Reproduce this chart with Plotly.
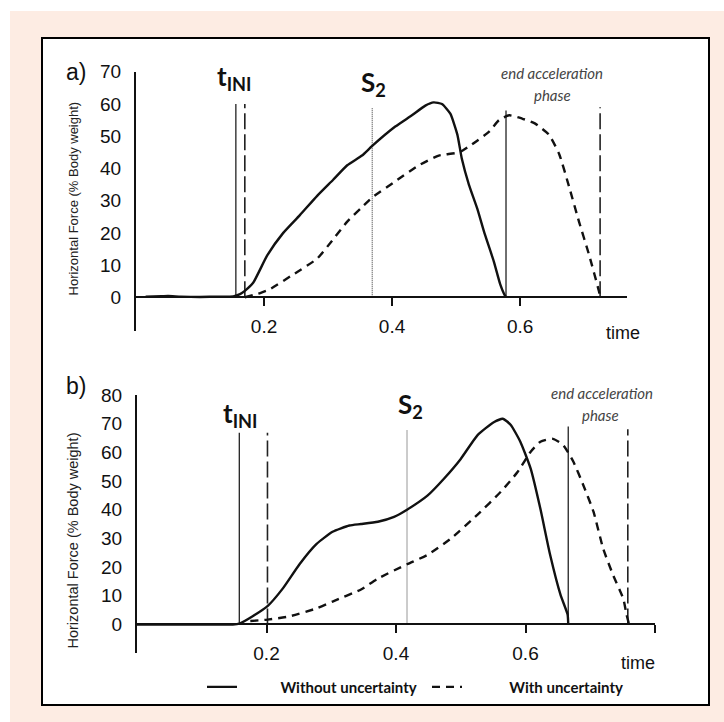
import plotly.graph_objects as go

W, H = 724, 722
# the photographed page maps figure rows onto window rows 8..722; place items accordingly
Y0, YSPAN = 8, 714
def px(x): return x / W
def py(y): return 1 - (y - Y0) / YSPAN

# ---------------- data: panel a ----------------
a_t_without = [0.015, 0.04, 0.05, 0.07, 0.10, 0.13, 0.152, 0.1625, 0.170, 0.183, 0.205, 0.230, 0.256,
               0.283, 0.308, 0.330, 0.353, 0.369, 0.405, 0.431, 0.452, 0.465, 0.478, 0.491, 0.502,
               0.509, 0.520, 0.533, 0.545, 0.559, 0.569, 0.575, 0.578]
a_f_without = [0.2, 0.3, 0.4, 0.2, 0.1, 0.2, 0.3, 1.0, 2.0, 4.5, 13, 20, 25.5,
               31.5, 36.5, 41, 44, 47, 53, 56.5, 59.5, 60.5, 60.0, 57.0, 50.5,
               43, 35, 27.6, 19.5, 11.1, 4, 1, 0]
a_t_with = [0.170, 0.194, 0.209, 0.245, 0.283, 0.308, 0.330, 0.353, 0.369, 0.405, 0.442, 0.473,
            0.505, 0.525, 0.552, 0.567, 0.583, 0.603, 0.623, 0.645, 0.661, 0.677, 0.692, 0.708,
            0.723, 0.725]
a_f_with = [0, 1.3, 2.5, 7, 12, 18, 23.5, 28, 31, 36, 41, 44,
            45, 47.5, 51.5, 55, 56.5, 55.5, 54, 50.5, 44.5, 34, 23.5, 13,
            2, 0]
# vertical markers: t_INI (without / with), S2, end acceleration (without / with)
a_marker_t = [0.156, 0.170, 0.369, 0.578, 0.725]
a_marker_top = [60, 60, 59, 58, 59]

# ---------------- data: panel b ----------------
b_t_without = [0.0, 0.05, 0.10, 0.148, 0.158, 0.178, 0.202, 0.225, 0.251, 0.277, 0.302, 0.328,
               0.346, 0.372, 0.397, 0.417, 0.449, 0.474, 0.500, 0.526, 0.551, 0.565, 0.577,
               0.592, 0.608, 0.623, 0.638, 0.654, 0.665, 0.666]
b_f_without = [0, 0, 0, 0, 0.3, 2.8, 6.5, 12.5, 21, 28, 32.3, 34.5,
               35, 35.8, 37.5, 40, 45, 50.8, 57.7, 66, 70.5, 71.7, 69.6,
               63.7, 54.3, 40.3, 24.3, 10.4, 3.5, 0]
b_t_with = [0.175, 0.2015, 0.235, 0.277, 0.302, 0.346, 0.372, 0.417, 0.449, 0.485, 0.526, 0.562,
            0.588, 0.608, 0.623, 0.642, 0.658, 0.674, 0.689, 0.705, 0.720, 0.735, 0.751,
            0.756, 0.760]
b_f_with = [1.2, 1.7, 2.8, 5.6, 8, 12.2, 16, 21, 24.3, 30, 38.3, 46.3,
            53.2, 60.2, 63.7, 64.7, 62.6, 56.7, 48.7, 39.3, 26.4, 17.4, 9,
            3.5, 0]
b_marker_t = [0.158, 0.2015, 0.417, 0.666, 0.758]
b_marker_top = [66.8, 66.8, 67.8, 69, 68]

a_yticks = [0, 10, 20, 30, 40, 50, 60, 70]
b_yticks = [0, 10, 20, 30, 40, 50, 60, 70, 80]
x_ticks = [0.2, 0.4, 0.6]
x_ticklabels = ["0.2", "0.4", "0.6"]

series_names = ["Without uncertainty", "With uncertainty"]
y_title = "Horizontal Force (% Body weight)"

marker_styles = [
    dict(color="#222222", width=1.3, dash="solid"),
    dict(color="#222222", width=1.6, dash="16px,5px"),
    dict(color="#444444", width=1.1, dash="1px,1px"),
    dict(color="#222222", width=1.3, dash="solid"),
    dict(color="#222222", width=1.6, dash="16px,5px"),
]

fig = go.Figure()

NB = "\u00a0"
def add_panel(xa, ya, tw, fw, tws, fws, mt, mtop, legend):
    for t, top, st in zip(mt, mtop, marker_styles):
        fig.add_trace(go.Scatter(x=[t, t], y=[0, top], mode="lines", line=st,
                                 xaxis=xa, yaxis=ya, showlegend=False, hoverinfo="skip"))
    fig.add_trace(go.Scatter(x=tw, y=fw, mode="lines",
                             name=NB * 10 + "<b>" + series_names[0] + "</b>",
                             line=dict(color="#111111", width=2.4, shape="spline", smoothing=0.5),
                             xaxis=xa, yaxis=ya, showlegend=legend))
    fig.add_trace(go.Scatter(x=tws, y=fws, mode="lines",
                             name=NB * 11 + "<b>" + series_names[1] + "</b>",
                             line=dict(color="#111111", width=2.4, dash="8px,6px",
                                       shape="spline", smoothing=0.5),
                             xaxis=xa, yaxis=ya, showlegend=legend))

add_panel("x", "y", a_t_without, a_f_without, a_t_with, a_f_with, a_marker_t, a_marker_top, True)
add_panel("x2", "y2", b_t_without, b_f_without, b_t_with, b_f_with, b_marker_t, b_marker_top, False)

tick_font = dict(family="Liberation Sans, Arial", size=19, color="#111111")
common_x = dict(showgrid=False, zeroline=False, showline=True, linecolor="#111111", linewidth=2,
                ticks="outside", ticklen=8, tickwidth=2, tickcolor="#111111",
                tickfont=tick_font, ticklabelstandoff=4, anchor="free")
common_y = dict(showgrid=False, zeroline=False, showline=True, linecolor="#111111", linewidth=2,
                ticks="", tickfont=tick_font, ticklabelstandoff=9)

# panel geometry (window pixels)
a_top, a_bot, a_zero = 70, 330, 296
b_top, b_bot, b_zero = 394, 653, 624

fig.update_layout(
    width=W, height=H,
    margin=dict(l=0, r=0, t=0, b=0),
    paper_bgcolor="white", plot_bgcolor="rgba(0,0,0,0)",
    xaxis=dict(domain=[px(136), px(627)], range=[0, 0.767],
               position=py(a_zero), tickvals=x_ticks, ticktext=x_ticklabels, **common_x),
    yaxis=dict(domain=[py(a_bot), py(a_top)], range=[-10.5, 70], anchor="x",
               tickvals=a_yticks, **common_y),
    xaxis2=dict(domain=[px(137), px(655)], range=[0, 0.8],
                position=py(b_zero), tickvals=x_ticks + [0.8], ticktext=x_ticklabels + [""],
                **common_x),
    yaxis2=dict(domain=[py(b_bot), py(b_top)], range=[-10, 80], anchor="x2",
                tickvals=b_yticks, **common_y),
    showlegend=True,
    legend=dict(orientation="h", x=px(202), xanchor="left", y=py(687), yanchor="middle",
                font=dict(family="Lato, Open Sans", size=15, color="#111111"),
                bgcolor="rgba(0,0,0,0)", entrywidth=180, entrywidthmode="pixels",
                itemclick=False, tracegroupgap=0),
)

shapes = [
    dict(type="rect", xref="paper", yref="paper", x0=px(10), x1=1, y0=0, y1=py(9),
         fillcolor="#FDECE3", line=dict(width=0), layer="below"),
    dict(type="rect", xref="paper", yref="paper", x0=px(42), x1=px(709), y0=py(705), y1=py(36),
         fillcolor="white", line=dict(color="#000000", width=2), layer="below"),
]
fig.update_layout(shapes=shapes)

big = dict(family="Liberation Sans, Arial", size=23, color="#111111")
label_bold = dict(family="Lato, Open Sans", size=26, color="#111111")
ital = dict(family="Lato, Open Sans", size=15, color="#444444")
ann = []
def A(x, y, text, font, xanchor="center", textangle=0):
    ann.append(dict(x=px(x), y=py(y), xref="paper", yref="paper", text=text, showarrow=False,
                    font=font, xanchor=xanchor, yanchor="middle", textangle=textangle))

A(64, 70, "a)", big, "left")
A(64, 385, "b)", big, "left")
A(235, 76, "<b>t<sub>INI</sub></b>", label_bold)
A(373, 82, "<b>S<sub>2</sub></b>", label_bold)
A(552, 71, "<i>end acceleration</i>", ital)
A(552, 93, "<i>phase</i>", ital)
A(240, 414, "<b>t<sub>INI</sub></b>", label_bold)
A(410, 405, "<b>S<sub>2</sub></b>", label_bold)
A(602, 392, "<i>end acceleration</i>", ital)
A(600, 414, "<i>phase</i>", ital)
time_font = dict(family="Liberation Sans, Arial", size=18, color="#111111")
A(623, 332, "time", time_font)
A(638, 663, "time", time_font)
A(73, 197, y_title, dict(family="Liberation Sans, Arial", size=13, color="#222222"), textangle=-90)
A(73, 540, y_title, dict(family="Liberation Sans, Arial", size=14.5, color="#222222"), textangle=-90)
fig.update_layout(annotations=ann)

pin = ("document.body.style.margin='0';document.body.style.overflow='hidden';"
       "var gd=document.getElementById('{plot_id}');"
       "gd.style.position='fixed';gd.style.left='0px';gd.style.top='0px';")
fig.write_html("out.html", post_script=pin, config={"displayModeBar": False})
